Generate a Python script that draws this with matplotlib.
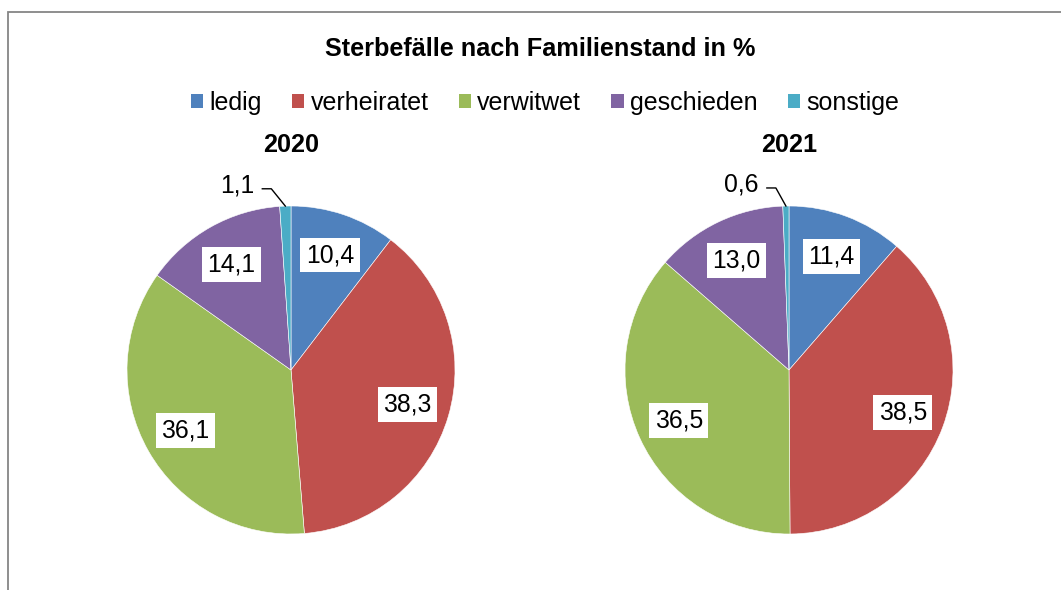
import matplotlib.pyplot as plt
from matplotlib.patches import Rectangle, Patch
import numpy as np

plt.rcParams['font.family'] = ['Liberation Sans', 'DejaVu Sans']

kategorien = ["ledig", "verheiratet", "verwitwet", "geschieden", "sonstige"]
jahre = ["2020", "2021"]
werte_2020 = [10.4, 38.3, 36.1, 14.1, 1.1]
werte_2021 = [11.4, 38.5, 36.5, 13.0, 0.6]
farben = ["#4F81BD", "#C0504D", "#9BBB59", "#8064A2", "#4BACC6"]

W, H = 1061, 590
fig = plt.figure(figsize=(W / 100, H / 100), dpi=100)

# grauer Rahmen (rechts und unten abgeschnitten)
fig.patches.append(Rectangle((8 / W, -0.05), 1.1, (H - 12) / H + 0.05,
                             transform=fig.transFigure, fill=False,
                             edgecolor="#868686", linewidth=1.3))

fig.text(540 / W, 1 - 49 / H, "Sterbefälle nach Familienstand in %",
         ha="center", va="center", fontsize=18.2, fontweight="bold")

handles = [Patch(facecolor=c, edgecolor="none") for c in farben]
fig.legend(handles, kategorien, loc="center", bbox_to_anchor=(545 / W, 1 - 103 / H),
           ncol=5, frameon=False, fontsize=18, handlelength=0.5, handleheight=0.5,
           handletextpad=0.25, columnspacing=1.2, borderpad=0)

R = 164
# Beschriftungspositionen der kleinen Scheibe (außen, mit Führungslinie)
aussen = [(-0.33, 1.125), (-0.29, 1.13)]

for i, (jahr, werte, cx) in enumerate(zip(jahre, [werte_2020, werte_2021], [291, 789])):
    ax = fig.add_axes([(cx - R) / W, (H - 370 - R) / H, 2 * R / W, 2 * R / H])
    wedges, texts, autotexts = ax.pie(
        werte, colors=farben, startangle=90, counterclock=False, radius=1,
        autopct=lambda p: "", pctdistance=0.74,
        wedgeprops=dict(edgecolor="white", linewidth=0.4))
    ax.set_xlim(-1, 1)
    ax.set_ylim(-1, 1)
    ax.set_aspect("equal")
    ax.axis("off")
    for w, v, t in zip(wedges[:-1], werte[:-1], autotexts[:-1]):
        x, y = t.get_position()
        ax.text(x, y, f"{v:.1f}".replace(".", ","), ha="center", va="center",
                fontsize=17.8, bbox=dict(facecolor="white", edgecolor="none", pad=4))
    # kleine Scheibe
    w = wedges[-1]
    mid = np.deg2rad((w.theta1 + w.theta2) / 2)
    ex, ey = np.cos(mid), np.sin(mid)
    tx, ty = aussen[i]
    ax.text(tx, ty, f"{werte[-1]:.1f}".replace(".", ","), ha="center", va="center",
            fontsize=17.8)
    ax.plot([tx + 0.155, tx + 0.21, ex], [ty - 0.02, ty - 0.02, ey],
            color="black", linewidth=1, clip_on=False)
    ax.text(0, (370 - 145) / R, jahr, ha="center", va="center",
            fontsize=18.2, fontweight="bold")

fig.savefig("out.png", dpi=100)
